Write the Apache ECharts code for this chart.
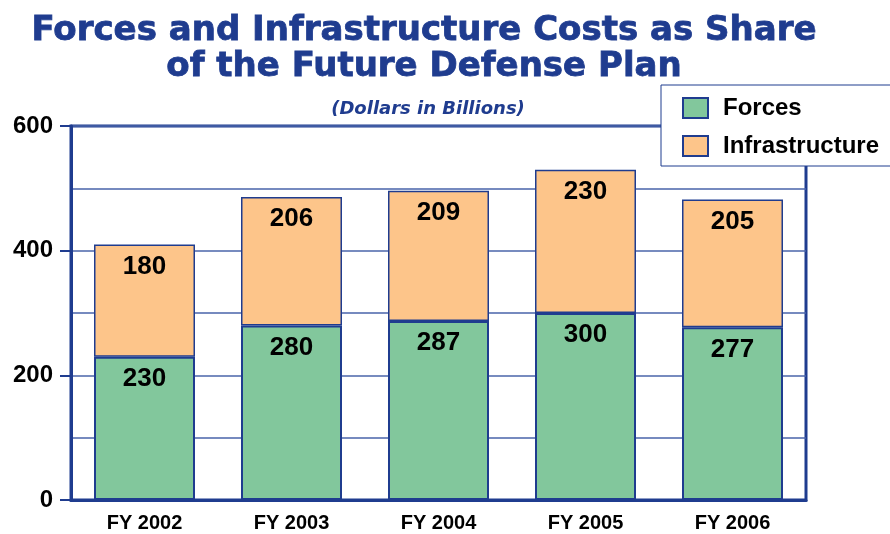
<!DOCTYPE html>
<html>
<head>
<meta charset="utf-8">
<script src="https://cdn.jsdelivr.net/npm/echarts@6/dist/echarts.min.js"></script>
<style>
  html, body { margin: 0; padding: 0; background: #fff; }
  #main { width: 890px; height: 534px; }
</style>
</head>
<body>
<div id="main"></div>
<script>
// data
var years = ['FY 2002', 'FY 2003', 'FY 2004', 'FY 2005', 'FY 2006'];
var forces = [230, 280, 287, 300, 277];
var infrastructure = [180, 206, 209, 230, 205];
var yTicks = [0, 200, 400, 600];

var navy = '#1f3c8f';
var myChart = echarts.init(document.getElementById('main'));

var valueLabel = {
  show: true,
  position: 'insideTop',
  distance: 9,
  color: '#000',
  fontFamily: 'Liberation Sans',
  fontWeight: 'bold',
  fontSize: 26
};

var option = {
  animation: false,
  title: [{
    text: 'Forces and Infrastructure Costs as Share\nof the Future Defense Plan',
    left: 419,
    top: 8,
    textAlign: 'center',
    textStyle: {
      color: navy,
      fontFamily: 'DejaVu Sans',
      fontWeight: 'bold',
      fontSize: 34,
      lineHeight: 36,
      textBorderColor: navy,
      textBorderWidth: 0.8
    }
  }, {
    text: '(Dollars in Billions)',
    left: 423,
    top: 95,
    textAlign: 'center',
    textStyle: {
      color: navy,
      fontFamily: 'DejaVu Sans',
      fontStyle: 'italic',
      fontWeight: 'bold',
      fontSize: 18
    }
  }],
  legend: {
    orient: 'vertical',
    left: 661,
    top: 85,
    padding: [11, 40, 8, 21],
    itemGap: 14,
    itemWidth: 25,
    itemHeight: 20,
    icon: 'rect',
    backgroundColor: '#fff',
    borderColor: navy,
    borderWidth: 1,
    textStyle: {
      color: '#000',
      fontFamily: 'Liberation Sans',
      fontWeight: 'bold',
      fontSize: 24,
      padding: [0, 0, 0, 10]
    },
    data: ['Forces', 'Infrastructure']
  },
  grid: {
    left: 71,
    right: 84,
    top: 126,
    bottom: 34,
    show: true,
    borderColor: navy,
    borderWidth: 3
  },
  xAxis: {
    type: 'category',
    data: years,
    axisLine: { lineStyle: { color: navy, width: 3 } },
    axisTick: { show: false },
    axisLabel: {
      color: '#000',
      margin: 13,
      fontFamily: 'Liberation Sans',
      fontWeight: 'bold',
      fontSize: 20
    }
  },
  yAxis: {
    type: 'value',
    min: yTicks[0],
    max: yTicks[yTicks.length - 1],
    interval: 200,
    axisLine: { show: true, lineStyle: { color: navy, width: 3 } },
    axisTick: { show: true, length: 11, lineStyle: { color: navy, width: 2 } },
    axisLabel: {
      color: '#000',
      margin: 18,
      fontFamily: 'Liberation Sans',
      fontWeight: 'bold',
      fontSize: 24
    },
    splitLine: { lineStyle: { color: '#4a64aa', width: 1.5 } },
    minorTick: { show: false, splitNumber: 2 },
    minorSplitLine: { show: true, lineStyle: { color: '#4a64aa', width: 1.5 } }
  },
  series: [{
    name: 'Forces',
    type: 'bar',
    stack: 'total',
    barWidth: 101,
    data: forces,
    itemStyle: { color: '#82c79c', borderColor: navy, borderWidth: 2 },
    label: valueLabel
  }, {
    name: 'Infrastructure',
    type: 'bar',
    stack: 'total',
    barWidth: 101,
    data: infrastructure,
    itemStyle: { color: '#fdc58a', borderColor: navy, borderWidth: 1.5 },
    label: valueLabel
  }]
};
myChart.setOption(option);
</script>
</body>
</html>
